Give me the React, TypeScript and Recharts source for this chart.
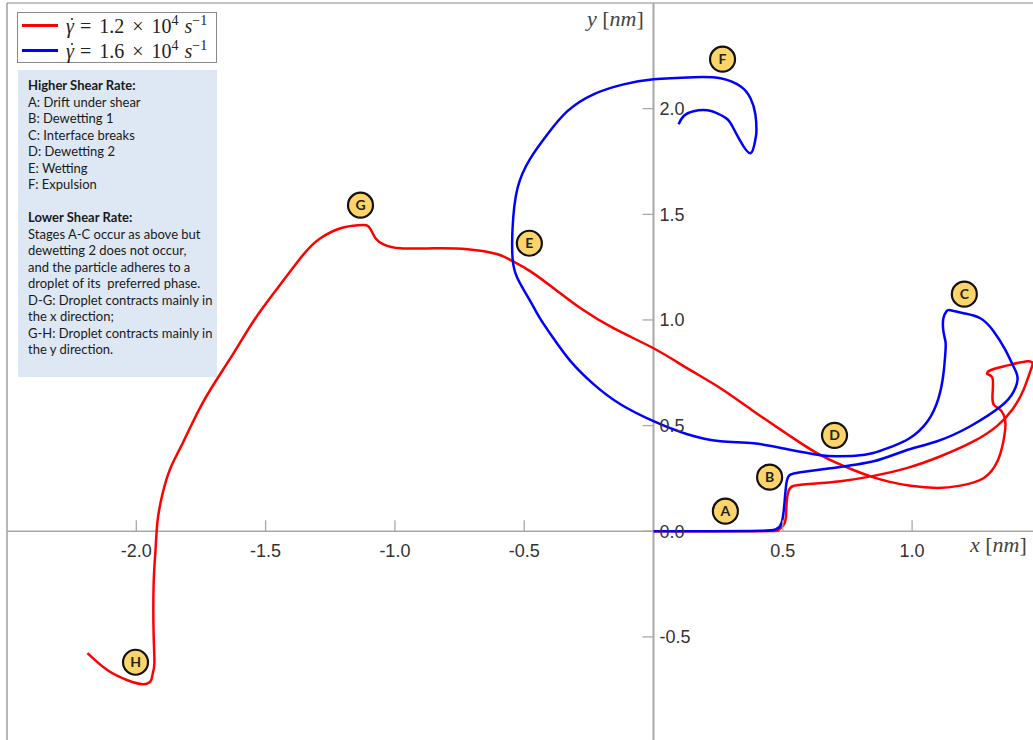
import React from 'react'
import {
  ComposedChart,
  Line,
  Scatter,
  XAxis,
  YAxis,
  ReferenceLine
} from 'recharts'

// particle centre trajectories, [x, y] in nm
const highShearPath = [
  [0, 0], [0.182, 0], [0.414, 0.002], [0.472, 0.009], [0.495, 0.038], [0.507, 0.142],
  [0.514, 0.227], [0.526, 0.265], [0.568, 0.279], [0.684, 0.298], [0.851, 0.331],
  [0.97, 0.38], [1.097, 0.426], [1.225, 0.497], [1.342, 0.59], [1.392, 0.66],
  [1.408, 0.724], [1.392, 0.78], [1.36, 0.86], [1.315, 0.947], [1.264, 1.008],
  [1.199, 1.032], [1.148, 1.046], [1.133, 1.041], [1.121, 1.008], [1.121, 0.947],
  [1.129, 0.899], [1.129, 0.852], [1.121, 0.743], [1.102, 0.629], [1.06, 0.521],
  [0.99, 0.44], [0.92, 0.4], [0.85, 0.37], [0.78, 0.357], [0.71, 0.355], [0.646, 0.36],
  [0.518, 0.388], [0.387, 0.416], [0.259, 0.426], [0.131, 0.459], [0, 0.521],
  [-0.128, 0.601], [-0.232, 0.696], [-0.321, 0.805], [-0.387, 0.913], [-0.44, 1.01],
  [-0.476, 1.088], [-0.526, 1.197], [-0.545, 1.292], [-0.545, 1.434], [-0.526, 1.623],
  [-0.476, 1.765], [-0.41, 1.879], [-0.333, 1.988], [-0.232, 2.068], [-0.116, 2.115],
  [0, 2.139], [0.155, 2.149], [0.259, 2.144], [0.336, 2.106], [0.375, 2.049],
  [0.394, 1.973], [0.398, 1.893], [0.394, 1.855], [0.375, 1.789], [0.336, 1.846],
  [0.309, 1.907], [0.286, 1.95], [0.247, 1.978], [0.209, 1.992], [0.155, 1.988],
  [0.116, 1.964], [0.097, 1.926]
]

const lowShearPath = [
  [0, 0], [0.414, 0], [0.483, 0.005], [0.507, 0.038], [0.514, 0.118], [0.522, 0.189],
  [0.538, 0.213], [0.588, 0.222], [0.723, 0.237], [0.851, 0.262], [0.982, 0.3],
  [1.11, 0.355], [1.237, 0.425], [1.33, 0.5], [1.39, 0.58], [1.431, 0.67], [1.458, 0.76],
  [1.466, 0.792], [1.446, 0.805], [1.37, 0.785], [1.303, 0.762], [1.292, 0.743],
  [1.311, 0.724], [1.311, 0.648], [1.315, 0.601], [1.334, 0.582], [1.353, 0.554],
  [1.361, 0.506], [1.353, 0.426], [1.33, 0.331], [1.276, 0.251], [1.187, 0.216],
  [1.098, 0.205], [0.994, 0.215], [0.91, 0.235], [0.851, 0.255], [0.773, 0.29],
  [0.646, 0.36], [0.518, 0.459], [0.387, 0.568], [0.259, 0.677], [0.131, 0.771],
  [0, 0.866], [-0.155, 0.961], [-0.282, 1.055], [-0.371, 1.136], [-0.476, 1.23],
  [-0.545, 1.278], [-0.603, 1.311], [-0.719, 1.335], [-0.851, 1.339], [-0.978, 1.339],
  [-1.044, 1.358], [-1.075, 1.387], [-1.094, 1.429], [-1.11, 1.448], [-1.141, 1.448],
  [-1.21, 1.434], [-1.288, 1.387], [-1.353, 1.311], [-1.454, 1.15], [-1.547, 0.994],
  [-1.636, 0.819], [-1.74, 0.615], [-1.817, 0.426], [-1.868, 0.298], [-1.899, 0.175],
  [-1.918, 0.047], [-1.926, -0.095], [-1.933, -0.251], [-1.933, -0.487], [-1.93, -0.625],
  [-1.937, -0.677], [-1.945, -0.71], [-1.976, -0.724], [-2.034, -0.705], [-2.111, -0.658],
  [-2.189, -0.577]
]

const xTickValues = [-2, -1.5, -1, -0.5, 0.5, 1]
const yTickValues = [-0.5, 0, 0.5, 1, 1.5, 2]

// stage markers along the paths
const stageNames = ['A', 'B', 'C', 'D', 'E', 'F', 'G', 'H']
const stageX = [0.278, 0.449, 1.202, 0.7, -0.48, 0.267, -1.133, -2.003]
const stageY = [0.095, 0.256, 1.122, 0.454, 1.363, 2.234, 1.543, -0.62]

const highShearNotes = [
  'A: Drift under shear',
  'B: Dewetting 1',
  'C: Interface breaks',
  'D: Dewetting 2',
  'E: Wetting',
  'F: Expulsion'
]
const lowShearNotes = [
  'Stages A-C occur as above but',
  'dewetting 2 does not occur,',
  'and the particle adheres to a',
  'droplet of its  preferred phase.',
  'D-G: Droplet contracts mainly in',
  'the x direction;',
  'G-H: Droplet contracts mainly in',
  'the y direction.'
]

const toPoints = (arr: number[][]) => arr.map(([x, y]) => ({ x, y }))
const highData = toPoints(highShearPath)
const lowData = toPoints(lowShearPath)
const xTickData = xTickValues.map((v) => ({ x: v, y: 0 }))
const yTickData = yTickValues.map((v) => ({ x: 0, y: v }))
const stageData = stageNames.map((name, i) => ({ name, x: stageX[i], y: stageY[i] }))

const AXIS = '#a8a8a8'
const TICK_FONT = '"Liberation Sans", Arial, sans-serif'
const SERIF = '"Liberation Serif", "Times New Roman", serif'
const NOTE_FONT = 'Lato, "Noto Sans", sans-serif'

const XTick = (props: any) => {
  const { cx, cy, payload } = props
  return (
    <g>
      <line x1={cx} x2={cx} y1={cy} y2={cy - 11} stroke={AXIS} strokeWidth={1.3} />
      <text x={cx} y={cy + 26} textAnchor='middle' fontSize={18} fill='#333' fontFamily={TICK_FONT}>
        {payload.x.toFixed(1)}
      </text>
    </g>
  )
}

const YTick = (props: any) => {
  const { cx, cy, payload } = props
  return (
    <g>
      <line x1={cx - 11} x2={cx} y1={cy} y2={cy} stroke={AXIS} strokeWidth={1.3} />
      <text x={cx + 6} y={cy + 6.5} textAnchor='start' fontSize={18} fill='#333' fontFamily={TICK_FONT}>
        {payload.y.toFixed(1)}
      </text>
    </g>
  )
}

const StageMark = (props: any) => {
  const { cx, cy, payload } = props
  return (
    <g>
      <circle cx={cx} cy={cy} r={12.5} fill='#fcd46a' stroke='#111' strokeWidth={2.2} />
      <text x={cx} y={cy + 5} textAnchor='middle' fontSize={14} fontWeight='bold' fill='#222' fontFamily={NOTE_FONT}>
        {payload.name}
      </text>
    </g>
  )
}

// gamma with a small rate dot drawn above it
const GammaDot = () => (
  <span style={{ position: 'relative', display: 'inline-block', fontStyle: 'italic' }}>
    γ
    <span
      style={{
        position: 'absolute', left: 4.5, top: 3, width: 2.6, height: 2.6,
        borderRadius: '50%', background: '#222'
      }}
    />
  </span>
)

const LegendRow = ({ color, rate }: { color: string; rate: string }) => (
  <div style={{ display: 'flex', alignItems: 'center', height: 25 }}>
    <span style={{ display: 'inline-block', width: 36, height: 2.5, background: color, marginLeft: 4, marginRight: 8 }} />
    <span style={{ fontFamily: SERIF, fontSize: 20, color: '#222', whiteSpace: 'nowrap' }}>
      <GammaDot />
      <span style={{ margin: '0 8px 0 6px' }}>=</span>
      {rate}
      <span style={{ margin: '0 8px' }}>×</span>
      10<sup style={{ fontSize: 14 }}>4</sup>
      <i style={{ marginLeft: 6 }}>s</i>
      <sup style={{ fontSize: 14 }}>−1</sup>
    </span>
  </div>
)

const App = () => {
  return (
    <div style={{ position: 'absolute', left: 0, top: 0, width: 1033, height: 740, overflow: 'hidden', background: '#fff' }}>
      <ComposedChart width={1060} height={760} margin={{ top: 3, left: 7, right: 18.6, bottom: 17.45 }}>
        <XAxis type='number' dataKey='x' domain={[-2.5, 1.5]} hide allowDataOverflow />
        <YAxis type='number' dataKey='y' domain={[-1, 2.5]} hide allowDataOverflow />
        <ReferenceLine x={-2.5} stroke='#888' strokeWidth={1.2} />
        <ReferenceLine y={2.5} stroke='#888' strokeWidth={1.2} />
        <ReferenceLine y={0} stroke={AXIS} strokeWidth={1.5} />
        <ReferenceLine x={0} stroke={AXIS} strokeWidth={2} />
        <Scatter data={xTickData} dataKey='y' shape={XTick} isAnimationActive={false} />
        <Scatter data={yTickData} dataKey='y' shape={YTick} isAnimationActive={false} />
        <Line data={lowData} dataKey='y' type='natural' stroke='#ff0000' strokeWidth={2.5} dot={false} isAnimationActive={false} />
        <Line data={highData} dataKey='y' type='natural' stroke='#0000ff' strokeWidth={2.5} dot={false} isAnimationActive={false} />
        <Scatter data={stageData} dataKey='y' shape={StageMark} isAnimationActive={false} />
      </ComposedChart>

      <div style={{ position: 'absolute', left: 587, top: 6, fontFamily: SERIF, fontSize: 22, color: '#444' }}>
        <i>y</i> [<i>nm</i>]
      </div>
      <div style={{ position: 'absolute', left: 970, top: 532, fontFamily: SERIF, fontSize: 22, color: '#444' }}>
        <i>x</i> [<i>nm</i>]
      </div>

      <div style={{ position: 'absolute', left: 17, top: 12, width: 200, height: 51, border: '1px solid #8a8a8a', background: '#fff', boxSizing: 'border-box' }}>
        <LegendRow color='#ff0000' rate='1.2' />
        <LegendRow color='#0000ff' rate='1.6' />
      </div>

      <div
        style={{
          position: 'absolute', left: 18, top: 70, width: 199, height: 307, background: '#dde8f4',
          boxSizing: 'border-box', padding: '7px 10px', fontFamily: NOTE_FONT, fontSize: 13,
          lineHeight: '16.5px', color: '#1a1a1a', whiteSpace: 'pre'
        }}
      >
        <div style={{ fontWeight: 'bold' }}>Higher Shear Rate:</div>
        {highShearNotes.map((t) => <div key={t}>{t}</div>)}
        <div style={{ height: 16.5 }} />
        <div style={{ fontWeight: 'bold' }}>Lower Shear Rate:</div>
        {lowShearNotes.map((t) => <div key={t}>{t}</div>)}
      </div>
    </div>
  )
}

export default App
